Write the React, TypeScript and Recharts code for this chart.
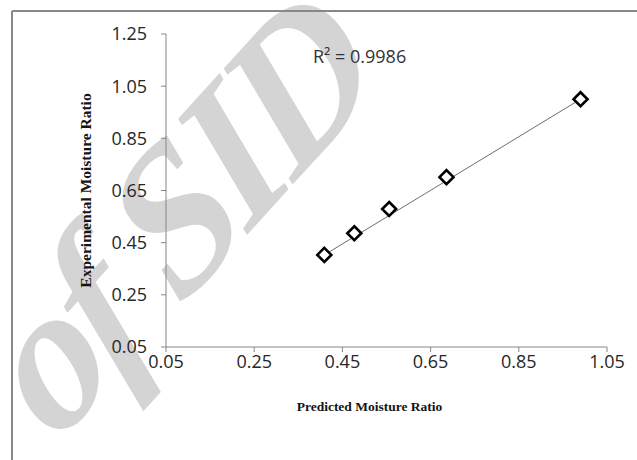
import React from 'react';
import { ScatterChart, Scatter, XAxis, YAxis } from 'recharts';

// values
const predicted = [0.409, 0.477, 0.556, 0.686, 0.99];
const experimental = [0.403, 0.486, 0.579, 0.701, 1.0];
const trendX = [0.409, 0.99];
const trendY = [0.403, 1.0];
const xTicks = [0.05, 0.25, 0.45, 0.65, 0.85, 1.05];
const yTicks = [0.05, 0.25, 0.45, 0.65, 0.85, 1.05, 1.25];
const rSquared = 'R² = 0.9986';

const points = predicted.map((x, i) => ({ x, y: experimental[i] }));
const trend = trendX.map((x, i) => ({ x, y: trendY[i] }));

const axisColor = '#868686';
const tickStyle = { fontFamily: '"Open Sans", sans-serif', fontSize: 18, fill: '#262626' };
const titleStyle = { fontFamily: '"Liberation Serif", serif', fontWeight: 700, fill: '#141414' };

const Diamond = (props: any) => {
  const { cx, cy } = props;
  const d = 7;
  return (
    <polygon
      points={`${cx},${cy - d} ${cx + d},${cy} ${cx},${cy + d} ${cx - d},${cy}`}
      fill="#fff"
      stroke="#000"
      strokeWidth={2.6}
    />
  );
};

const NoDot = () => <g />;

// watermark sits under the chart
const Backdrop: React.FC = () => (
  <svg width={637} height={460} style={{ position: 'absolute', left: 0, top: 0 }}>
    <g transform="translate(56,445) scale(1,1.14) rotate(-44)">
      <text
        x={0}
        y={0}
        fontFamily='"Liberation Serif", serif'
        fontStyle="italic"
        fontWeight={700}
        fontSize={185}
        letterSpacing={-9}
        fill="#d4d4d4"
      >
        of SID
      </text>
    </g>
    <line x1={12} y1={11} x2={637} y2={11} stroke="#888" strokeWidth={2} />
    <line x1={12} y1={11} x2={12} y2={460} stroke="#888" strokeWidth={2} />
  </svg>
);

const App: React.FC = () => {
  return (
    <div style={{ position: 'absolute', left: 0, top: 0, width: 637, height: 460, background: '#fff' }}>
      <Backdrop />
      <div style={{ position: 'absolute', left: 0, top: 0 }}>
        <ScatterChart width={637} height={460} margin={{ top: 34, right: 30, left: 86, bottom: 43 }}>
          <XAxis
            type="number"
            dataKey="x"
            domain={[0.05, 1.05]}
            ticks={xTicks}
            tickFormatter={(v: number) => v.toFixed(2)}
            height={70}
            tickSize={5}
            tickMargin={3}
            axisLine={{ stroke: axisColor }}
            tickLine={{ stroke: axisColor }}
            tick={tickStyle}
            allowDataOverflow
            label={{
              value: 'Predicted Moisture Ratio',
              position: 'insideBottom',
              offset: 6,
              dx: -17,
              style: { ...titleStyle, fontSize: 13.5, textAnchor: 'middle' },
            }}
          />
          <YAxis
            type="number"
            dataKey="y"
            domain={[0.05, 1.25]}
            ticks={yTicks}
            tickFormatter={(v: number) => v.toFixed(2)}
            width={80}
            tickSize={5}
            tickMargin={14}
            axisLine={{ stroke: axisColor }}
            tickLine={{ stroke: axisColor }}
            tick={tickStyle}
            allowDataOverflow
            label={{
              value: 'Experimental Moisture Ratio',
              angle: -90,
              position: 'insideLeft',
              offset: -1,
              style: { ...titleStyle, fontSize: 15.5, textAnchor: 'middle' },
            }}
          />
          <Scatter
            data={trend}
            line={{ stroke: '#6e6e6e', strokeWidth: 1 }}
            shape={NoDot}
            isAnimationActive={false}
          />
          <Scatter data={points} shape={Diamond} isAnimationActive={false} />
          <text
            x={313}
            y={63}
            fontFamily='"Open Sans", sans-serif'
            fontSize={18}
            fill="#333"
          >
            {rSquared}
          </text>
        </ScatterChart>
      </div>
    </div>
  );
};

export default App;
